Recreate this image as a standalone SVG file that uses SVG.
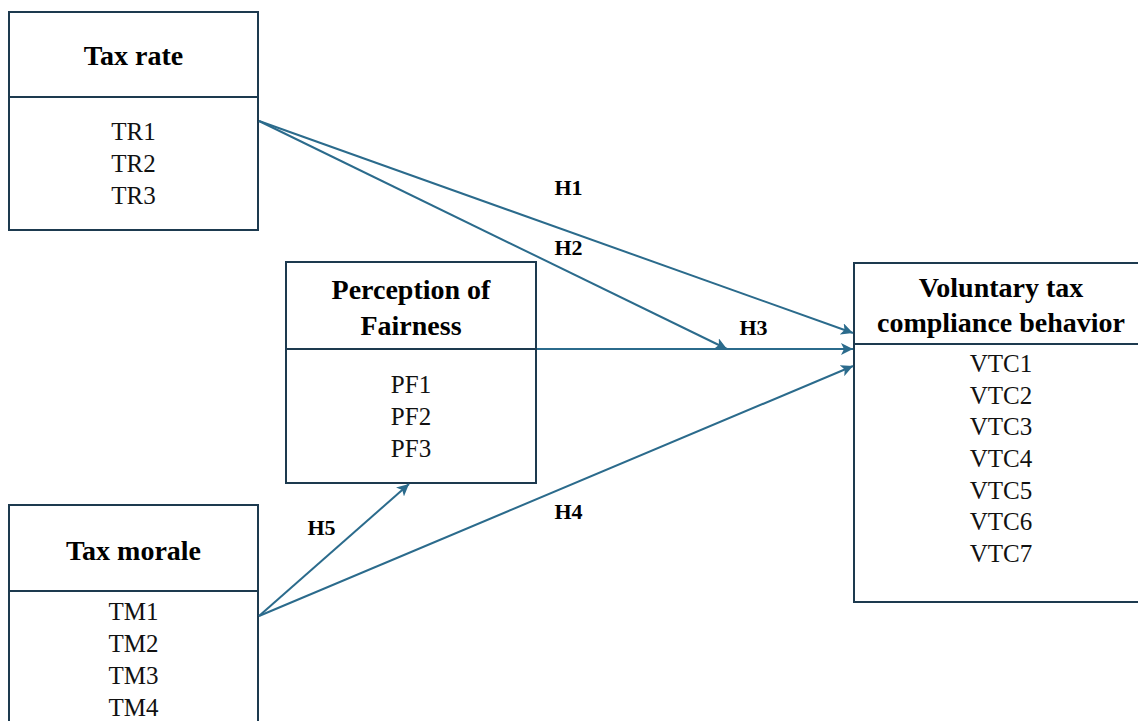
<svg xmlns="http://www.w3.org/2000/svg" width="1138" height="721" viewBox="0 0 1138 721">
<style>
.box{fill:#fff;stroke:#1d3a4f;stroke-width:2}
.div{stroke:#1d3a4f;stroke-width:2}
.title{font-family:"Liberation Serif",serif;font-weight:bold;font-size:28px;fill:#000;text-anchor:middle}
.item{font-family:"Liberation Serif",serif;font-size:25px;fill:#111;text-anchor:middle}
.lab{font-family:"Liberation Serif",serif;font-weight:bold;font-size:22px;fill:#000;text-anchor:middle}
.conn{stroke:#2b6b8c;stroke-width:2;fill:none;marker-end:url(#ah)}
</style>
<defs>
<marker id="ah" viewBox="0 0 10 10" refX="10" refY="5" markerWidth="6" markerHeight="6" markerUnits="strokeWidth" orient="auto">
<path d="M0,0 L10,5 L0,10 L2.5,5 Z" fill="#2b6b8c"/>
</marker>
</defs>
<rect width="1138" height="721" fill="#fff"/>
<g id="taxrate">
<rect class="box" x="9" y="12" width="249" height="218"/>
<line class="div" x1="9" y1="97" x2="258" y2="97"/>
<text class="title" x="133.500" y="65">Tax rate</text>
<text class="item" x="133.500" y="140">TR1</text>
<text class="item" x="133.500" y="172">TR2</text>
<text class="item" x="133.500" y="204">TR3</text>
</g>
<g id="fairness">
<rect class="box" x="286" y="262" width="250" height="221"/>
<line class="div" x1="286" y1="349" x2="536" y2="349"/>
<text class="title" x="411" y="299">Perception of</text>
<text class="title" x="411" y="335">Fairness</text>
<text class="item" x="411" y="393">PF1</text>
<text class="item" x="411" y="425">PF2</text>
<text class="item" x="411" y="457">PF3</text>
</g>
<g id="vtc">
<rect class="box" x="854" y="263" width="294" height="339"/>
<line class="div" x1="854" y1="344" x2="1148" y2="344"/>
<text class="title" x="1001" y="297">Voluntary tax</text>
<text class="title" x="1001" y="332">compliance behavior</text>
<text class="item" x="1001" y="372">VTC1</text>
<text class="item" x="1001" y="403.700">VTC2</text>
<text class="item" x="1001" y="435.300">VTC3</text>
<text class="item" x="1001" y="467">VTC4</text>
<text class="item" x="1001" y="498.700">VTC5</text>
<text class="item" x="1001" y="530.300">VTC6</text>
<text class="item" x="1001" y="562">VTC7</text>
</g>
<g id="taxmorale">
<rect class="box" x="9" y="505" width="249" height="240"/>
<line class="div" x1="9" y1="591" x2="258" y2="591"/>
<text class="title" x="133.500" y="560">Tax morale</text>
<text class="item" x="133.500" y="620">TM1</text>
<text class="item" x="133.500" y="652">TM2</text>
<text class="item" x="133.500" y="684">TM3</text>
<text class="item" x="133.500" y="716">TM4</text>
</g>
<g id="connectors">
<line class="conn" x1="259" y1="121" x2="853" y2="333"/>
<line class="conn" x1="259" y1="121" x2="727" y2="349"/>
<line class="conn" x1="537" y1="349" x2="853" y2="349"/>
<line class="conn" x1="259" y1="616" x2="853" y2="366"/>
<line class="conn" x1="259" y1="616" x2="409" y2="484"/>
<text class="lab" x="568.500" y="195">H1</text>
<text class="lab" x="568.500" y="255">H2</text>
<text class="lab" x="753.500" y="335">H3</text>
<text class="lab" x="568.500" y="519">H4</text>
<text class="lab" x="321.500" y="535">H5</text>
</g>
</svg>
